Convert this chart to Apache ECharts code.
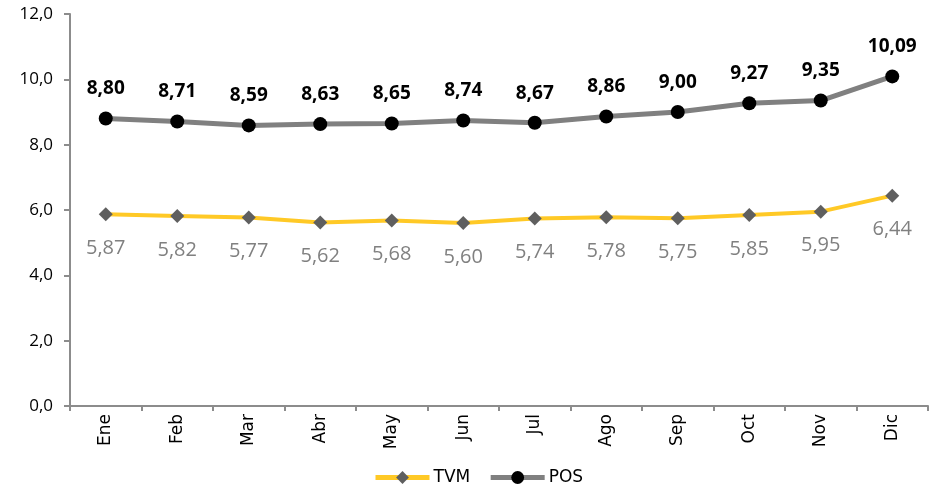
<!DOCTYPE html>
<html>
<head>
<meta charset="utf-8">
<script src="https://cdn.jsdelivr.net/npm/echarts@6/dist/echarts.min.js"></script>
<style>
  html, body { margin: 0; padding: 0; background: #ffffff; }
  #chart { width: 930px; height: 486px; }
</style>
</head>
<body>
<div id="chart"></div>
<script>
// Monthly values for the two series
const months = ['Ene', 'Feb', 'Mar', 'Abr', 'May', 'Jun', 'Jul', 'Ago', 'Sep', 'Oct', 'Nov', 'Dic'];
const tvm = [5.87, 5.82, 5.77, 5.62, 5.68, 5.60, 5.74, 5.78, 5.75, 5.85, 5.95, 6.44];
const pos = [8.80, 8.71, 8.59, 8.63, 8.65, 8.74, 8.67, 8.86, 9.00, 9.27, 9.35, 10.09];

const labelFont = '"Open Sans", "DejaVu Sans", sans-serif';
const comma = (v, d) => v.toFixed(d).replace('.', ',');

const chart = echarts.init(document.getElementById('chart'), null, { renderer: 'canvas' });

chart.setOption({
  animation: false,
  backgroundColor: '#ffffff',
  grid: { left: 70, right: 2, top: 14, bottom: 80, containLabel: false },
  legend: {
    bottom: 0,
    left: 373,
    padding: 0,
    itemWidth: 54,
    itemHeight: 16,
    itemGap: 18,
    lineStyle: { width: 5 },
    textStyle: { fontFamily: '"DejaVu Sans", sans-serif', fontSize: 17, color: '#000000', padding: [0, 0, 0, -1] },
    data: ['TVM', 'POS']
  },
  xAxis: {
    type: 'category',
    data: months,
    boundaryGap: true,
    axisLine: { lineStyle: { color: '#8c8c8c', width: 2 } },
    axisTick: { show: true, length: 5, lineStyle: { color: '#8c8c8c', width: 2 } },
    axisLabel: {
      rotate: 90,
      margin: 8,
      fontFamily: '"DejaVu Sans", sans-serif',
      fontSize: 17,
      color: '#000000'
    },
    splitLine: { show: false }
  },
  yAxis: {
    type: 'value',
    min: 0,
    max: 12,
    interval: 2,
    axisLine: { show: true, lineStyle: { color: '#8c8c8c', width: 2 } },
    axisTick: { show: true, length: 6, lineStyle: { color: '#8c8c8c', width: 2 } },
    axisLabel: {
      margin: 17,
      fontFamily: labelFont,
      fontSize: 17,
      color: '#000000',
      formatter: v => comma(v, 1)
    },
    splitLine: { show: false }
  },
  series: [
    {
      name: 'TVM',
      type: 'line',
      data: tvm,
      symbol: 'diamond',
      symbolSize: 14,
      itemStyle: { color: '#5f5f5f' },
      lineStyle: { color: '#ffc926', width: 4 },
      label: {
        show: true,
        position: 'bottom',
        distance: 17,
        fontFamily: labelFont,
        fontSize: 20,
        color: '#808080',
        formatter: p => comma(p.value, 2)
      },
      z: 3
    },
    {
      name: 'POS',
      type: 'line',
      data: pos,
      symbol: 'circle',
      symbolSize: 14,
      itemStyle: { color: '#000000' },
      lineStyle: { color: '#808080', width: 5 },
      label: {
        show: true,
        position: 'top',
        distance: 13,
        fontFamily: labelFont,
        fontSize: 19,
        fontWeight: 'bold',
        color: '#000000',
        formatter: p => comma(p.value, 2)
      },
      z: 4
    }
  ]
});
</script>
</body>
</html>
